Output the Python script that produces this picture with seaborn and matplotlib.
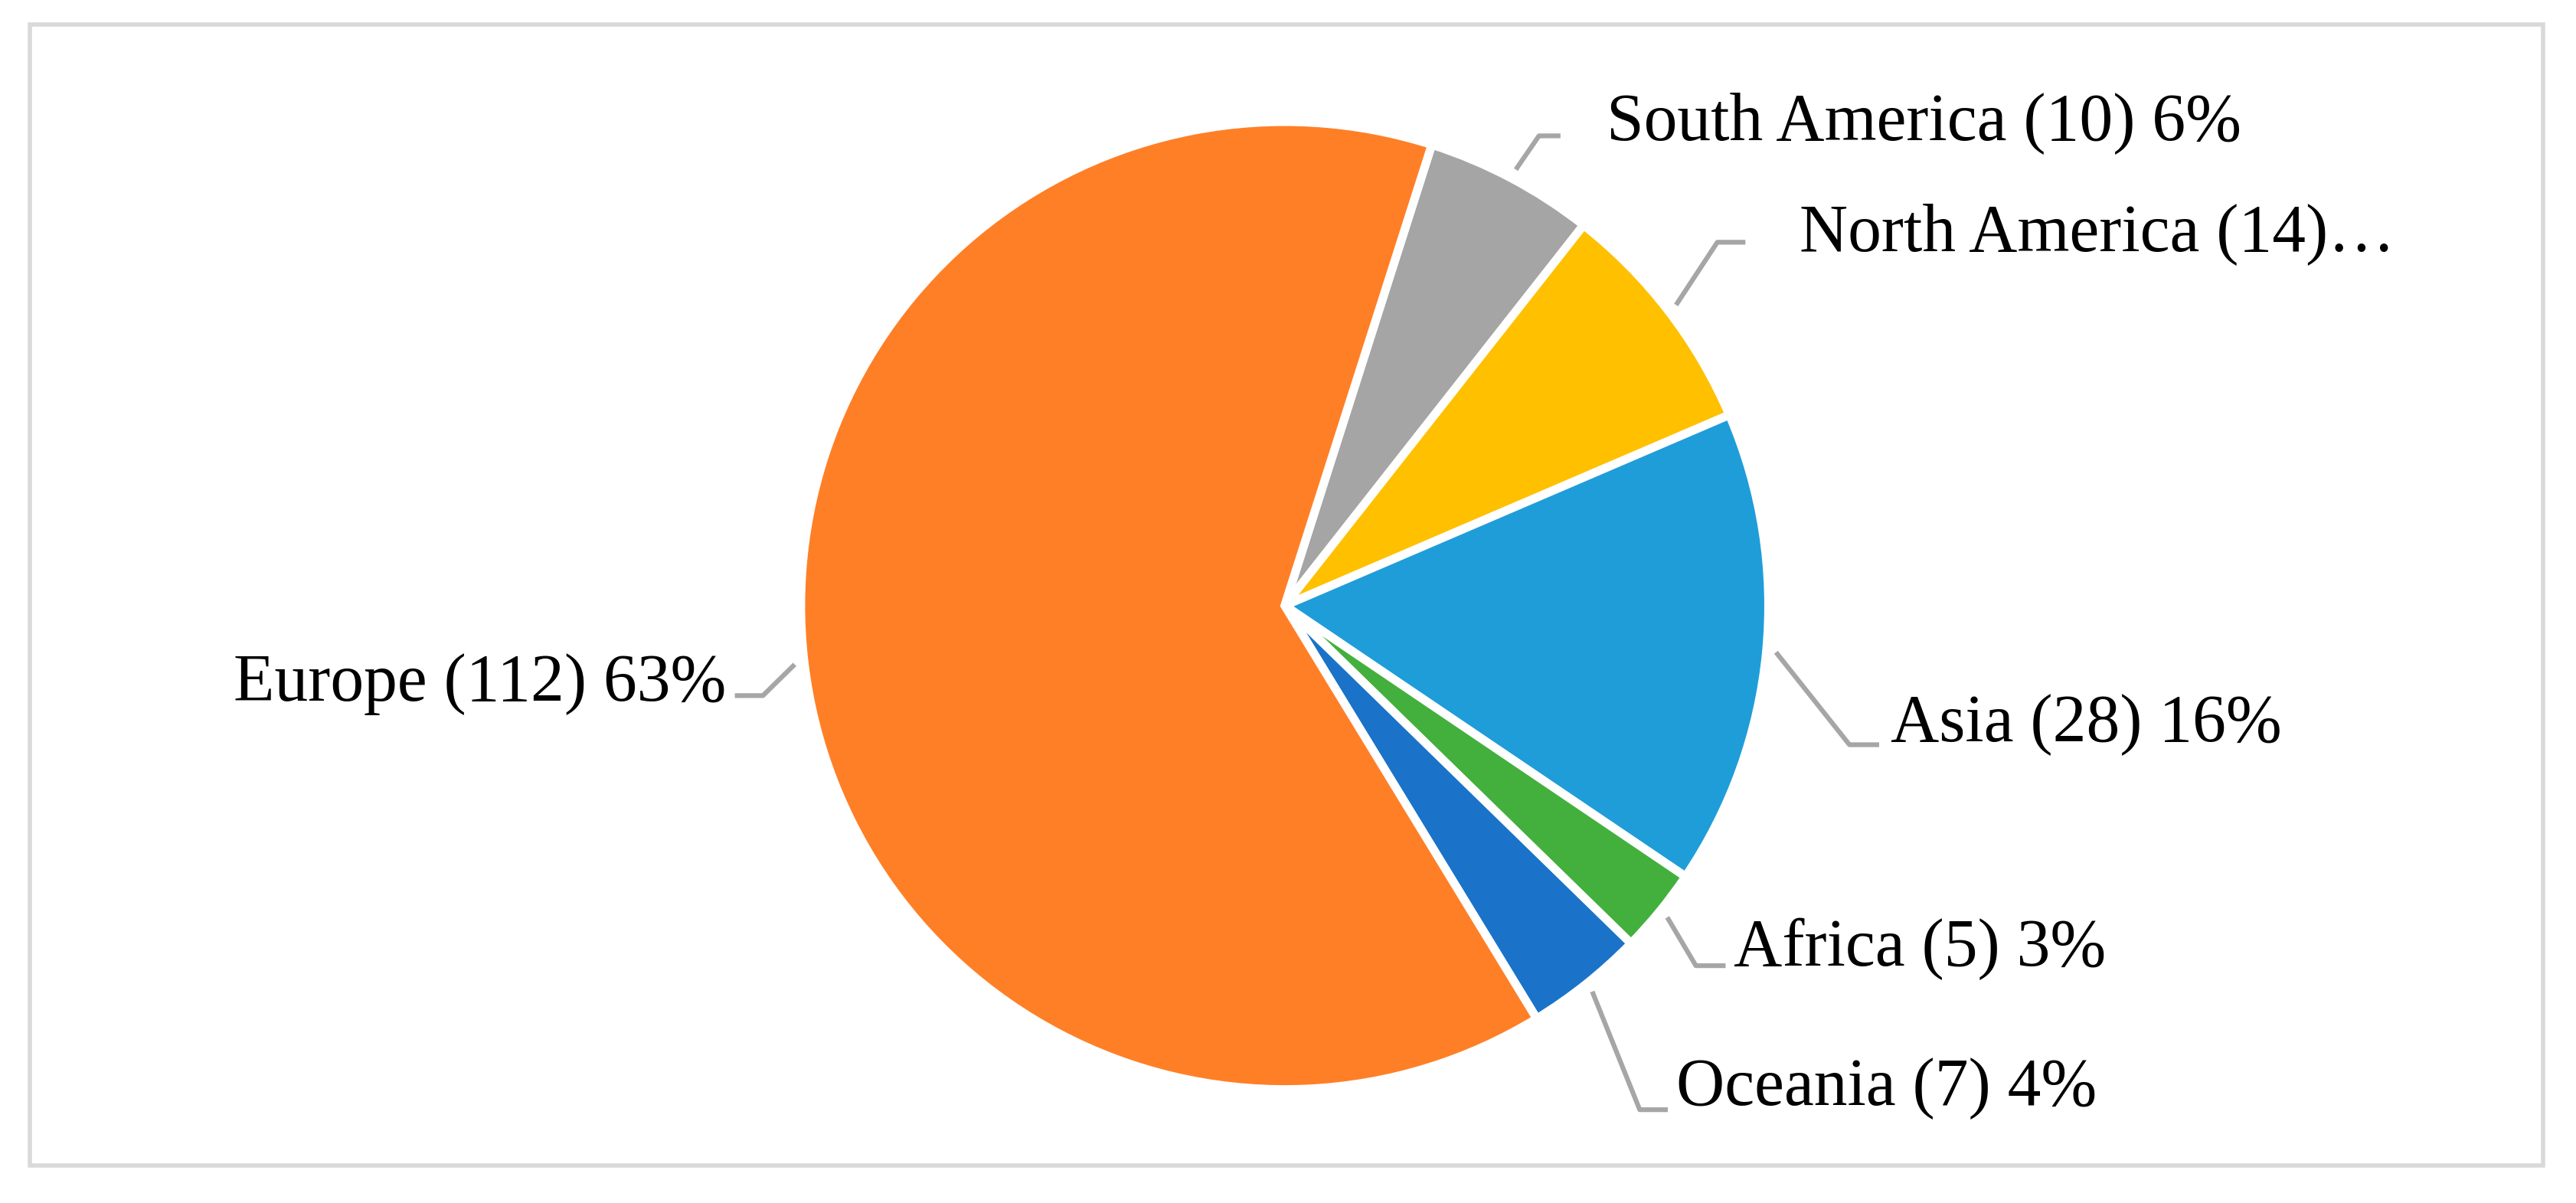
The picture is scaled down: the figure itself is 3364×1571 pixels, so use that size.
import matplotlib.pyplot as plt
import matplotlib.patches as mpatches
import numpy as np
import seaborn as sns

sns.set_style('white')
plt.rcParams['font.family'] = ['Liberation Serif', 'DejaVu Serif']

# Данные
regions = ['South America', 'North America', 'Asia', 'Africa', 'Oceania', 'Europe']
counts = [10, 14, 28, 5, 7, 112]
labels = ['South America (10) 6%', 'North America (14)…', 'Asia (28) 16%',
          'Africa (5) 3%', 'Oceania (7) 4%', 'Europe (112) 63%']
colors = ['#A5A5A5', '#FFC000', '#1F9DD9', '#43B03D', '#1A73C8', '#FF7F27']

W = 1560.0
H = W * 1571 / 3364


def Y(y):
    # перевод координаты y из картинки (сверху вниз) в оси
    return H - y * H / 735


fig = plt.figure(figsize=(33.64, 15.71), dpi=100)
ax = fig.add_axes([0, 0, 1, 1])

cx, cy, r = 778, Y(370), 293
wedges, _ = ax.pie(counts, colors=colors, startangle=72.3, counterclock=False,
                   center=(cx, cy), radius=r, frame=True,
                   wedgeprops=dict(edgecolor='white', linewidth=8))
ax.set_xlim(0, W)
ax.set_ylim(0, H)
ax.axis('off')

# рамка
ax.add_patch(mpatches.Rectangle((18, Y(712)), 1522, Y(15) - Y(712), fill=False,
                                edgecolor='#D9D9D9', linewidth=4))

# подписи: (излом x, y), конец линии x, текст x, выравнивание
layout = [
    ((932, 83), 945, 973, 'left'),
    ((1040, 148), 1057, 1090, 'left'),
    ((1120, 455), 1138, 1145, 'left'),
    ((1027, 590), 1045, 1050, 'left'),
    ((993, 678), 1010, 1015, 'left'),
    ((462, 425), 445, 440, 'right'),
]
text_y = [75, 143, 443, 580, 665, 418]

for w, lab, (elbow, end_x, tx, ha), ty in zip(wedges, labels, layout, text_y):
    ang = np.deg2rad((w.theta1 + w.theta2) / 2)
    ax_, ay_ = cx + r * 1.02 * np.cos(ang), cy + r * 1.02 * np.sin(ang)
    ex, ey = elbow[0], Y(elbow[1])
    ax.plot([ax_, ex, end_x], [ay_, ey, ey], color='#A6A6A6', lw=4.5,
            solid_capstyle='butt')
    ax.text(tx, Y(ty), lab, ha=ha, va='center', fontsize=63, color='#000000')

fig.savefig('out.png', dpi=100)
